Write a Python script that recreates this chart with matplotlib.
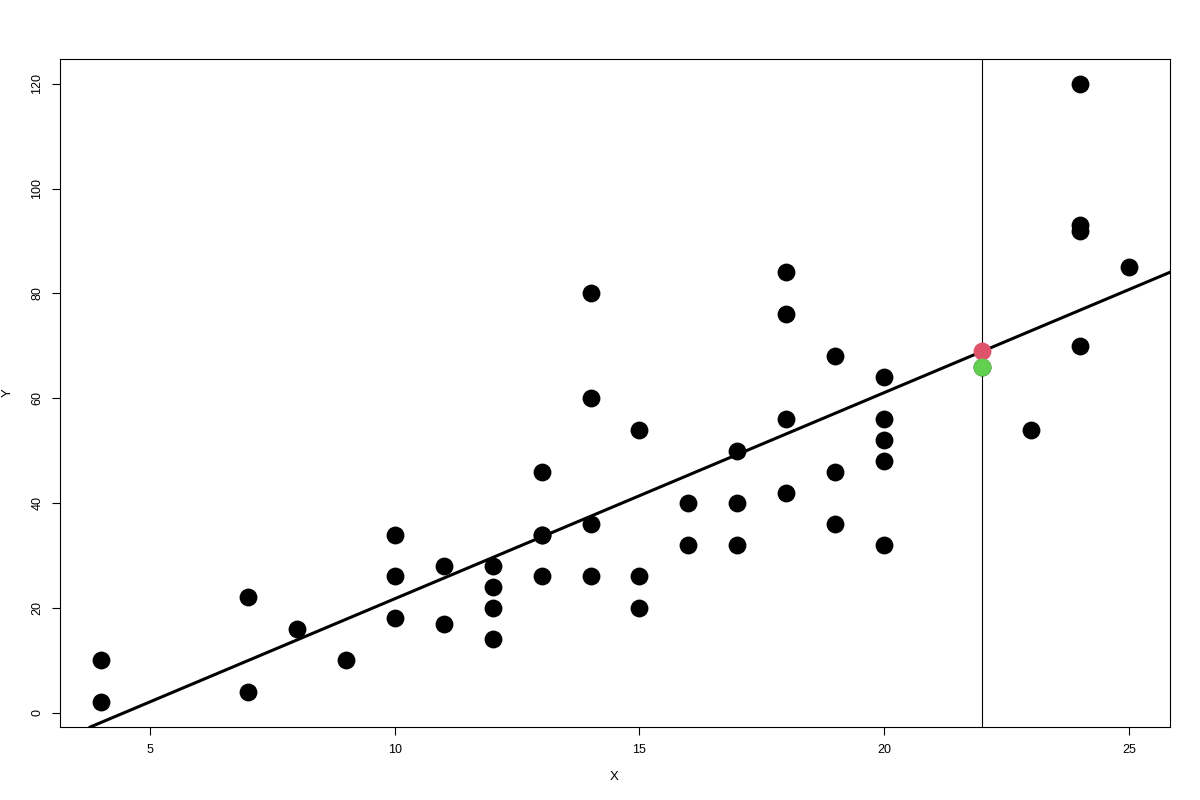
import numpy as np
import matplotlib
matplotlib.use("Agg")
import matplotlib.pyplot as plt

plt.rcParams['font.family'] = ['Liberation Sans', 'DejaVu Sans']

# cars data: speed (X) and stopping distance (Y)
speed = [4, 4, 7, 7, 8, 9, 10, 10, 10, 11, 11, 12, 12, 12, 12, 13, 13, 13, 13,
         14, 14, 14, 14, 15, 15, 15, 16, 16, 17, 17, 17, 18, 18, 18, 18, 19, 19,
         19, 20, 20, 20, 20, 20, 22, 23, 24, 24, 24, 24, 25]
dist = [2, 10, 4, 22, 16, 10, 18, 26, 34, 17, 28, 14, 20, 24, 28, 26, 34, 34, 46,
        26, 36, 60, 80, 20, 26, 54, 32, 40, 32, 40, 50, 42, 56, 76, 84, 36, 46,
        68, 32, 48, 52, 56, 64, 66, 54, 70, 92, 93, 120, 85]

x_new = 22
x_ticks = [5, 10, 15, 20, 25]
y_ticks = [0, 20, 40, 60, 80, 100, 120]

slope, intercept = np.polyfit(speed, dist, 1)
y_pred = intercept + slope * x_new
y_actual = [d for s, d in zip(speed, dist) if s == x_new][0]

fig = plt.figure(figsize=(12, 8), dpi=100)
ax = fig.add_axes([0.05, 0.09125, 0.925, 0.835])

ax.scatter(speed, dist, s=165, color="black", zorder=3, linewidths=0)
ax.axline((0, intercept), slope=slope, color="black", lw=2.2, zorder=2)
ax.axvline(x_new, color="black", lw=0.8, zorder=1)
ax.scatter([x_new], [y_pred], s=165, color="#DF536B", zorder=4, linewidths=0)
ax.scatter([x_new], [y_actual], s=165, color="#61D04F", zorder=4, linewidths=0)

xr = max(speed) - min(speed)
yr = max(dist) - min(dist)
ax.set_xlim(min(speed) - 0.04 * xr, max(speed) + 0.04 * xr)
ax.set_ylim(min(dist) - 0.04 * yr, max(dist) + 0.04 * yr)

ax.set_xticks(x_ticks)
ax.set_yticks(y_ticks)
ax.tick_params(direction="out", length=6, width=0.8, labelsize=9, pad=6)
for lab in ax.get_yticklabels():
    lab.set_rotation(90)
    lab.set_va("center")
for sp in ax.spines.values():
    sp.set_linewidth(0.8)

fig.text(614 / 1200, 1 - 777 / 800, "X", ha="center", va="center", fontsize=9.5)
fig.text(8 / 1200, 1 - 393 / 800, "Y", ha="center", va="center", fontsize=9.5, rotation=90)

fig.savefig("out.png", dpi=100)
